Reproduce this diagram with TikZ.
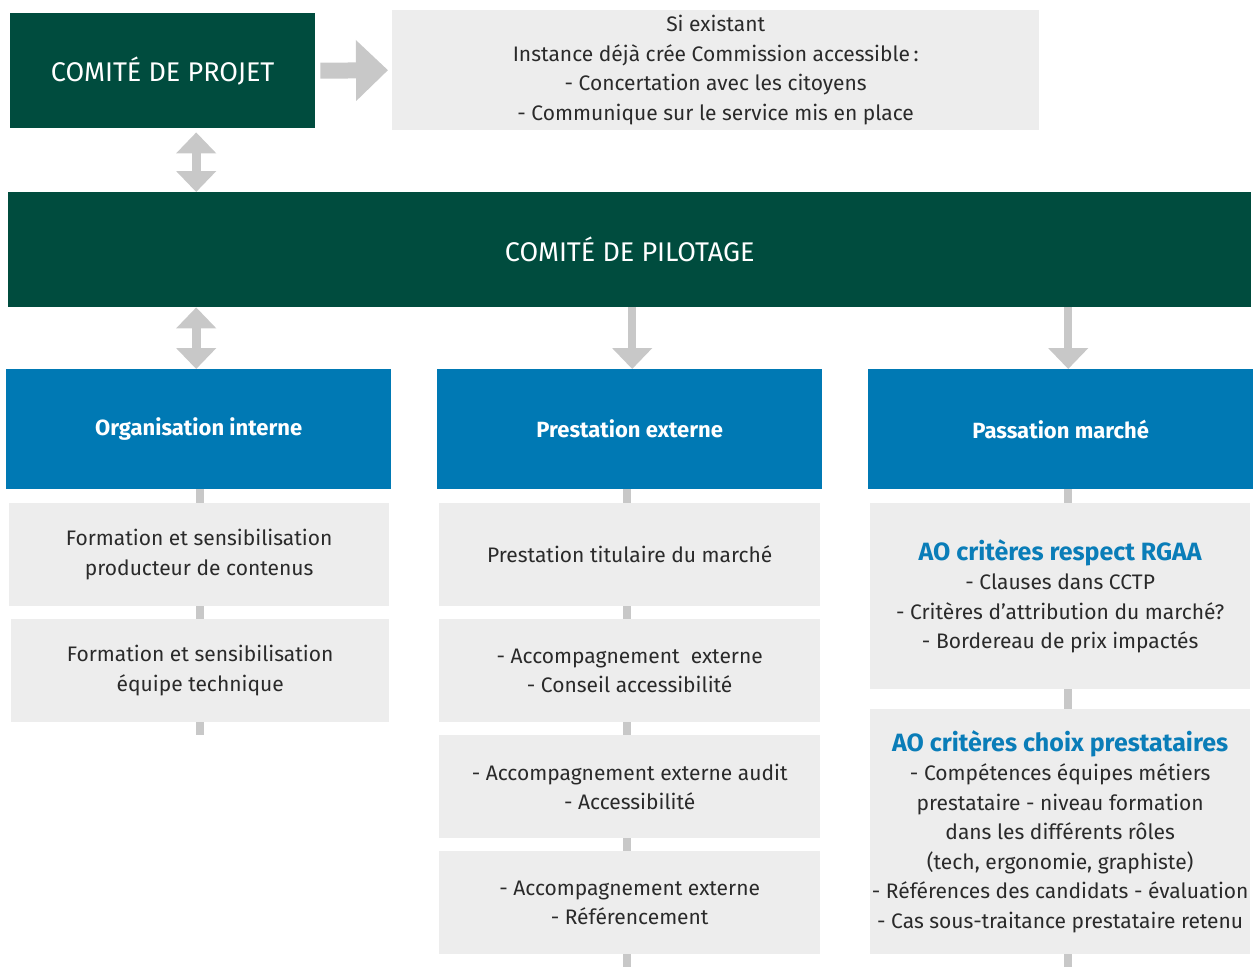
\documentclass[tikz,border=0pt]{standalone}
\usepackage{fontspec}
\setmainfont{Fira Sans}
\usetikzlibrary{arrows.meta}
\definecolor{dgreen}{HTML}{004C3E}
\definecolor{hblue}{HTML}{0079B4}
\definecolor{tblue}{HTML}{0A7DB8}
\definecolor{lgrey}{HTML}{EDEDED}
\definecolor{cgrey}{HTML}{C8C8C8}
\definecolor{txt}{HTML}{2A2A2A}
\tikzset{
  greenbox/.style={fill=dgreen, text=white, inner sep=0pt, anchor=north west, align=center,
    font=\fontsize{27}{30}\selectfont},
  bluebox/.style={fill=hblue, text=white, inner sep=0pt, anchor=north west, align=center,
    font=\fontsize{22}{26}\selectfont\bfseries},
  greybox/.style={fill=lgrey, text=txt, inner sep=0pt, anchor=north west, align=center,
    font=\fontsize{21}{29.5}\selectfont},
  conn/.style={draw=cgrey, line width=8pt},
  dbl/.style={draw=cgrey, line width=9pt, {Triangle[length=21pt,width=39pt]}-{Triangle[length=21pt,width=39pt]}},
  down/.style={draw=cgrey, line width=8pt, -{Triangle[length=21pt,width=39pt]}},
  right/.style={draw=cgrey, line width=16pt, -{Triangle[length=32pt,width=59pt]}}
}
\newcommand{\aot}[1]{{\color{tblue}\fontsize{25}{29.5}\selectfont\bfseries #1}}
\begin{document}
\begin{tikzpicture}[x=1pt,y=-1pt]
\useasboundingbox (0,0) rectangle (1254,967);
% top row
\node[greenbox, minimum width=305pt, minimum height=115pt] (proj) at (10,13) {COMITÉ DE PROJET};
\node[greybox, minimum width=647pt, minimum height=120pt] (info) at (392,10)
  {Si existant\\Instance déjà crée Commission accessible\,:\\- Concertation avec les citoyens\\- Communique sur le service mis en place};
\node[greenbox, minimum width=1243pt, minimum height=115pt] (pil) at (8,192) {COMITÉ DE PILOTAGE};
% headers
\node[bluebox, minimum width=385pt, minimum height=120pt] (h1) at (6,369) {Organisation interne};
\node[bluebox, minimum width=385pt, minimum height=120pt] (h2) at (437,369) {Prestation externe};
\node[bluebox, minimum width=385pt, minimum height=120pt] (h3) at (868,369) {Passation marché};
% column 1
\node[greybox, minimum width=380pt, minimum height=103pt] (a1) at (9,503) {Formation et sensibilisation\\producteur de contenus};
\node[greybox, minimum width=378pt, minimum height=103pt] (a2) at (11,619) {Formation et sensibilisation\\équipe technique};
% column 2
\node[greybox, minimum width=381pt, minimum height=103pt] (b1) at (439,503) {Prestation titulaire du marché};
\node[greybox, minimum width=381pt, minimum height=103pt] (b2) at (439,619) {- Accompagnement\ \ externe\\- Conseil accessibilité};
\node[greybox, minimum width=381pt, minimum height=103pt] (b3) at (439,735) {- Accompagnement externe audit\\- Accessibilité};
\node[greybox, minimum width=381pt, minimum height=103pt] (b4) at (439,851) {- Accompagnement externe\\- Référencement};
% column 3
\node[greybox, minimum width=380pt, minimum height=186pt] (c1) at (870,503)
  {\aot{AO critères respect RGAA}\\- Clauses dans CCTP\\- Critères d’attribution du marché?\\- Bordereau de prix impactés};
\node[greybox, minimum width=380pt, minimum height=245pt] (c2) at (870,709)
  {\aot{AO critères choix prestataires}\\- Compétences équipes métiers\\prestataire - niveau formation\\dans les différents rôles\\(tech, ergonomie, graphiste)\\- Références des candidats - évaluation\\- Cas sous-traitance prestataire retenu};
% tail coordinates
\coordinate (ta) at (200,735);
\coordinate (tb) at (627,967);
\coordinate (tc) at (1068,967);
% arrows
\draw[right] ([xshift=5pt]proj.east) -- ([xshift=-4pt]info.west);
\draw[dbl] ([xshift=33.5pt,yshift=-4pt]proj.south) -- ([xshift=-433.5pt]pil.north);
\draw[dbl] ([xshift=-433.5pt]pil.south) -- ([xshift=-2.5pt]h1.north);
\draw[down] ([xshift=2.5pt]pil.south) -- ([xshift=2.5pt]h2.north);
\draw[down] ([xshift=438.5pt]pil.south) -- ([xshift=7.5pt]h3.north);
% connectors
\draw[conn] (h1.south -| ta) -- (a1.north -| ta);
\draw[conn] (a1.south -| ta) -- (a2.north -| ta);
\draw[conn] (a2.south -| ta) -- (ta);
\draw[conn] (h2.south -| tb) -- (b1.north -| tb);
\draw[conn] (b1.south -| tb) -- (b2.north -| tb);
\draw[conn] (b2.south -| tb) -- (b3.north -| tb);
\draw[conn] (b3.south -| tb) -- (b4.north -| tb);
\draw[conn] (b4.south -| tb) -- (tb);
\draw[conn] (h3.south -| tc) -- (c1.north -| tc);
\draw[conn] (c1.south -| tc) -- (c2.north -| tc);
\draw[conn] (c2.south -| tc) -- (tc);
\end{tikzpicture}
\end{document}
